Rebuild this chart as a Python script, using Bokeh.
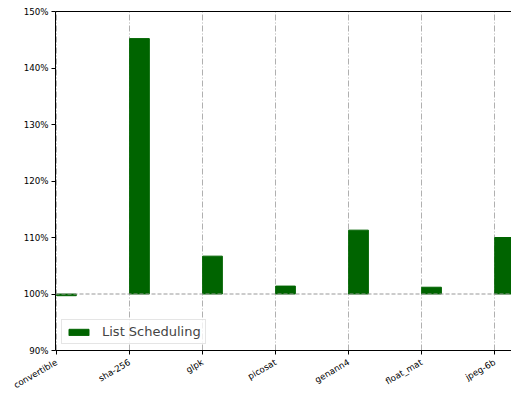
import math
from bokeh.plotting import figure
from bokeh.models import (Range1d, FixedTicker, PrintfTickFormatter, Span, LinearAxis,
                          Legend, LegendItem, ColumnDataSource)
from bokeh.embed import file_html
from bokeh.resources import INLINE

categories = ["convertible", "sha-256", "glpk", "picosat", "genann4", "float_mat", "jpeg-6b"]
list_scheduling = [99.7, 145.2, 106.7, 101.4, 111.3, 101.2, 110.0]
y_ticks = [90, 100, 110, 120, 130, 140, 150]

bar_width = 0.27
idx = list(range(len(categories)))
src = ColumnDataSource(dict(
    x=[i + bar_width / 2 for i in idx],
    top=list_scheduling,
    bottom=[100] * len(categories),
))

FONT = "DejaVu Sans"

p = figure(width=511, height=397, output_backend="svg", toolbar_location=None,
           x_range=Range1d(-0.015, 6.23), y_range=Range1d(90, 150),
           min_border_left=55, min_border_right=0, min_border_top=11, min_border_bottom=45)
p.outline_line_color = None
p.background_fill_color = "white"

r = p.vbar(x="x", top="top", bottom="bottom", width=bar_width, source=src,
           fill_color="#006400", line_color="#006400")

# axes
p.xaxis.ticker = FixedTicker(ticks=idx)
p.xaxis.major_label_overrides = {i: c for i, c in enumerate(categories)}
p.xaxis.major_label_orientation = math.pi / 6
p.yaxis.ticker = FixedTicker(ticks=y_ticks)
p.yaxis.formatter = PrintfTickFormatter(format="%d%%")
for ax in (p.xaxis[0], p.yaxis[0]):
    ax.major_label_text_font = FONT
    ax.major_label_text_font_size = "8.7px"
    ax.major_label_text_color = "black"
    ax.axis_line_color = "black"
    ax.axis_line_width = 1
    ax.major_tick_line_color = "black"
    ax.major_tick_out = 4
    ax.major_tick_in = 0
    ax.minor_tick_line_color = None
    ax.major_label_standoff = 3
p.xaxis.major_label_standoff = 7

top_axis = LinearAxis(ticker=FixedTicker(ticks=[]),
                      axis_line_color="black", major_tick_line_color=None,
                      minor_tick_line_color=None)
p.add_layout(top_axis, "above")

# grid
p.ygrid.grid_line_color = None
p.xgrid.ticker = FixedTicker(ticks=idx)
p.xgrid.grid_line_color = "#b0b0b0"
p.xgrid.grid_line_dash = "6 2 1 2"
p.xgrid.grid_line_width = 1

p.add_layout(Span(location=100, dimension="width", line_color="#999999",
                  line_dash="4 2", line_width=1))

legend = Legend(items=[LegendItem(label="List Scheduling", renderers=[r])],
                location="bottom_left", margin=6, padding=4, spacing=0,
                glyph_width=25, glyph_height=8, label_height=13, label_standoff=11,
                label_text_font=FONT, label_text_font_size="13px",
                border_line_color="#cccccc", border_line_width=1,
                background_fill_alpha=0.8)
p.add_layout(legend)

open("out.html", "w").write(file_html(p, INLINE))
